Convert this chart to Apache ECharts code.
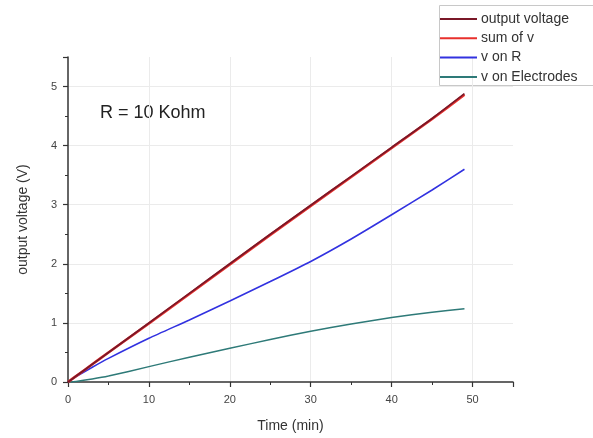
<!DOCTYPE html>
<html>
<head>
<meta charset="utf-8">
<script src="https://cdn.jsdelivr.net/npm/echarts@6/dist/echarts.min.js"></script>
<style>
  html, body { margin: 0; padding: 0; background: #fff; }
  #chart { width: 593px; height: 438px; }
</style>
</head>
<body>
<div id="chart"></div>
<script>
// Sample times (min)
const timeMin = [0, 1, 3, 5, 10, 15, 20, 25, 30, 35, 40, 45, 49];

// Voltages (V) at each sample time
const outputVoltage = [0, 0.1, 0.3, 0.5, 1.0, 1.5, 2.0, 2.5, 2.99, 3.48, 3.97, 4.46, 4.88];
const sumOfV        = [0, 0.1, 0.3, 0.5, 0.99, 1.49, 1.99, 2.49, 2.98, 3.47, 3.96, 4.45, 4.86];
const vOnR          = [0, 0.09, 0.25, 0.4, 0.74, 1.05, 1.37, 1.7, 2.04, 2.42, 2.83, 3.25, 3.6];
const vOnElectrodes = [0, 0.01, 0.05, 0.1, 0.26, 0.42, 0.57, 0.72, 0.86, 0.98, 1.09, 1.18, 1.24];

const seriesNames = ['output voltage', 'sum of v', 'v on R', 'v on Electrodes'];
const seriesColors = ['#7a1828', '#e8302c', '#3232e0', '#2e7a78'];

function pairs(ys) {
  return timeMin.map((t, i) => [t, ys[i]]);
}

const chart = echarts.init(document.getElementById('chart'), null, { renderer: 'canvas' });
const font = 'Liberation Sans, Arial, sans-serif';

const axisCommon = {
  axisLine: { show: true, onZero: false, lineStyle: { color: '#333', width: 1.5 } },
  axisTick: { show: true, length: 5, lineStyle: { color: '#333', width: 1.2 } },
  minorTick: { show: true, splitNumber: 2, length: 3, lineStyle: { color: '#333', width: 1 } },
  splitLine: { show: true, showMinLine: false, showMaxLine: false, lineStyle: { color: '#ebebeb', width: 1 } },
  nameLocation: 'middle',
  nameTextStyle: { color: '#333', fontSize: 14, fontFamily: font }
};
const labelCommon = { color: '#444', fontSize: 11, fontFamily: font, showMaxLabel: false };

const dataSets = [outputVoltage, sumOfV, vOnR, vOnElectrodes];
const widths = [1.8, 2.6, 1.6, 1.5];
const zs = [4, 3, 2, 2];

chart.setOption({
  animation: false,
  backgroundColor: '#fff',
  grid: { left: 68, right: 80, top: 57, bottom: 56 },
  xAxis: Object.assign({}, axisCommon, {
    type: 'value', min: 0, max: 55, interval: 10,
    axisLabel: Object.assign({ margin: 12 }, labelCommon),
    name: 'Time (min)', nameGap: 37
  }),
  yAxis: Object.assign({}, axisCommon, {
    type: 'value', min: 0, max: 5.5, interval: 1,
    axisLabel: Object.assign({ margin: 11 }, labelCommon),
    name: 'output voltage (V)', nameGap: 38
  }),
  legend: {
    orient: 'vertical',
    left: 440, top: 11,
    padding: 0,
    itemGap: 3.3,
    itemWidth: 37, itemHeight: 2,
    icon: 'rect',
    textStyle: { color: '#333', fontSize: 14, fontFamily: font, lineHeight: 16, padding: [0, 0, 0, -1] },
    data: seriesNames
  },
  graphic: [
    {
      type: 'rect', silent: true,
      shape: { x: 439.5, y: 5.5, width: 170, height: 80 },
      style: { fill: 'none', stroke: '#c8c8c8', lineWidth: 1 }
    },
    {
      type: 'text', silent: true,
      left: 100, top: 104,
      style: { text: 'R = 10 Kohm', fill: '#222', font: '18px ' + font }
    }
  ],
  series: seriesNames.map((name, i) => ({
    name: name,
    type: 'line',
    data: pairs(dataSets[i]),
    showSymbol: false,
    smooth: 0.2,
    z: zs[i],
    color: seriesColors[i],
    lineStyle: { color: seriesColors[i], width: widths[i] }
  }))
});
</script>
</body>
</html>
